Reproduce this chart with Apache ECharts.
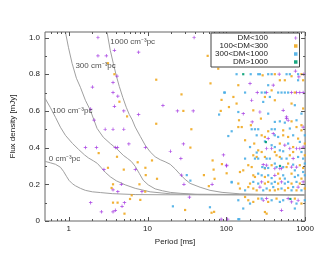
<!DOCTYPE html>
<html><head><meta charset="utf-8">
<script src="https://cdn.jsdelivr.net/npm/echarts@6/dist/echarts.min.js"></script>
<style>html,body{margin:0;padding:0;background:#fff}#c{width:317px;height:260px}</style>
</head><body><div id="c"></div>
<script>
const FONT = 'Liberation Sans';
const seriesNames = ['DM<100', '100<DM<300', '300<DM<1000', 'DM>1000'];
const seriesColors = ['#A030E0', '#F0A820', '#4AAEE6', '#009E73'];

// [period ms, flux density mJy]
const dmLt100 = [
  [2.35,1.0],[2.35,0.90],[3.0,0.90],[3.8,0.93],[7.7,0.92],[2.0,0.73],[3.65,0.755],[3.65,0.70],[4.2,0.68],[5.0,0.60],
  [3.8,0.625],[1.9,0.61],[2.1,0.55],[7.7,0.58],[4.1,0.79],[2.9,0.50],[3.65,0.50],[5.0,0.50],[1.63,0.40],[2.25,0.40],
  [3.9,0.40],[4.15,0.40],[9.4,0.40],[5.8,0.42],[2.8,0.28],[7.0,0.28],[4.65,0.20],[4.2,0.16],[3.65,0.17],[8.5,0.16],
  [1.9,0.10],[2.6,0.05],[3.65,0.05],[3.9,0.058],[4.75,0.08],[5.1,0.10],
  [39,1.0],[15.7,0.63],[24,0.60],[38,0.60],[19.5,0.38],[28.5,0.42],[26.5,0.34],[27,0.25],[29,0.20],[66,0.20],
  [34,0.13],[86,0.01],[92,0.36],[104,0.01],[101,0.30],
  [469,0.80],[755,0.817],[963,0.80],[200,0.749],[394,0.74],[833,0.785],[247,0.70],[325,0.70],[673,0.70],[778,0.70],
  [857,0.70],[944,0.70],[164,0.585],[267,0.594],[527,0.603],[582,0.567],[210,0.658],[213,0.54],[582,0.558],[609,0.549],
  [944,0.512],[340,0.449],[394,0.476],[325,0.395],[553,0.413],[944,0.403],[376,0.395],[640,0.395],[778,0.395],[857,0.395],
  [705,0.34],[101,0.304],[294,0.307],[325,0.304],[478,0.286],[502,0.286],[778,0.294],[413,0.286],[673,0.294],[413,0.249],
  [281,0.213],[502,0.213],[944,0.213],[267,0.185],[815,0.185],[294,0.113],[325,0.122],[609,0.122],[673,0.104],[815,0.113],
  [502,0.058]
];
const dm100to300 = [
  [3.15,0.86],[3.8,0.80],[4.4,0.65],[5.5,0.57],[12.9,0.77],[12.9,0.53],[2.4,0.37],[4.1,0.35],[3.15,0.29],[5.0,0.28],
  [7.5,0.32],[11.4,0.33],[9.4,0.29],[9.5,0.25],[13.2,0.23],[3.65,0.20],[3.5,0.18],[7.9,0.20],[6.3,0.14],[8.1,0.115],
  [6.0,0.12],[3.65,0.10],[4.17,0.10],[5.1,0.04],[9.35,0.16],
  [58,0.90],[27,0.69],[28.5,0.60],[63,0.75],[79,0.83],[87,0.66],[85,0.60],[36,0.50],[35,0.40],[67,0.33],
  [88,0.31],[69,0.28],[52,0.25],[71,0.23],[60,0.19],[30,0.06],[65,0.045],[101,0.26],[70,0.05],
  [289,0.794],[413,0.80],[673,0.789],[899,0.80],[142,0.74],[478,0.767],[553,0.767],[944,0.767],[376,0.712],[741,0.70],
  [108,0.621],[135,0.64],[220,0.603],[673,0.64],[413,0.658],[944,0.613],[309,0.676],[123,0.676],
  [145,0.549],[275,0.558],[673,0.543],[899,0.522],[142,0.512],[157,0.512],[205,0.522],[340,0.489],[527,0.494],[778,0.512],
  [899,0.494],[173,0.44],[281,0.467],[309,0.458],[527,0.467],[609,0.458],[815,0.449],[226,0.422],[478,0.422],[705,0.403],
  [991,0.422],[254,0.385],[281,0.376],[413,0.376],[705,0.376],[220,0.358],[243,0.349],[309,0.349],[434,0.358],[478,0.349],
  [640,0.358],[991,0.358],[190,0.304],[210,0.294],[376,0.304],[582,0.294],[609,0.313],[857,0.304],[944,0.289],
  [164,0.276],[149,0.267],[309,0.286],[220,0.249],[231,0.24],[309,0.24],[455,0.258],[478,0.231],[673,0.258],[899,0.231],
  [142,0.204],[200,0.204],[309,0.204],[340,0.213],[455,0.204],[673,0.204],[857,0.204],[149,0.177],[190,0.185],[220,0.177],
  [243,0.167],[357,0.167],[413,0.167],[455,0.173],[553,0.167],[609,0.18],[778,0.167],[991,0.177],[173,0.131],[190,0.113],
  [220,0.104],[254,0.122],[340,0.104],[434,0.122],[741,0.122],[899,0.095],[309,0.049],[325,0.04]
];
const dm300to1000 = [
  [62,0.075],[117,0.21],[21,0.08],[146,0.01],[81,0.58],[94,0.70],[31.5,0.25],[35,0.22],
  [135,0.80],[204,0.80],[254,0.80],[267,0.80],[340,0.80],[376,0.80],[582,0.80],[640,0.80],[815,0.80],[340,0.74],
  [815,0.767],[96,0.70],[173,0.70],[281,0.70],[309,0.70],[455,0.70],[502,0.70],[553,0.70],[609,0.70],[142,0.594],
  [340,0.585],[294,0.649],[741,0.631],[899,0.585],[357,0.676],
  [413,0.54],[478,0.543],[553,0.536],[778,0.549],[117,0.489],[210,0.50],[231,0.50],[254,0.50],[376,0.50],[413,0.50],
  [640,0.504],[106,0.463],[243,0.467],[413,0.467],[455,0.458],[705,0.467],[991,0.467],[309,0.434],[200,0.403],[376,0.413],
  [413,0.403],[609,0.422],[857,0.431],[243,0.373],[478,0.385],[527,0.38],[899,0.376],[231,0.34],[254,0.34],[325,0.34],
  [357,0.34],[502,0.34],[582,0.34],[815,0.349],[944,0.34],[173,0.34],[309,0.289],[340,0.289],[413,0.313],[434,0.294],
  [705,0.307],[991,0.313],[286,0.294],[527,0.294],[741,0.276],[944,0.267],[254,0.258],[281,0.249],[340,0.249],[376,0.234],
  [527,0.249],[553,0.231],[741,0.24],[815,0.249],[991,0.249],[117,0.213],[220,0.213],[254,0.204],[376,0.204],[413,0.213],
  [553,0.204],[609,0.213],[778,0.213],[173,0.167],[294,0.167],[325,0.177],[394,0.185],[502,0.177],[673,0.167],[705,0.185],
  [899,0.167],[200,0.095],[281,0.122],[376,0.113],[478,0.104],[527,0.113],[778,0.095],[991,0.113],[142,0.113],[164,0.068],
  [741,0.068],[142,0.01]
];
const dmGt1000 = [[164,0.80],[318,0.43],[480,0.30],[650,0.12]];

// sensitivity curves
const curveDM0 = [[0.5,0.325],[0.587,0.317],[0.679,0.309],[0.785,0.293],[0.857,0.271],[0.935,0.244],[1.006,0.222],
  [1.114,0.203],[1.216,0.192],[1.406,0.178],[1.627,0.167],[1.995,0.159],[2.52,0.155],[3.57,0.149],[6.98,0.144],
  [16.7,0.143],[1000,0.142]];
const curveDM100 = [[0.5,0.669],[0.587,0.617],[0.679,0.565],[0.785,0.511],[0.908,0.467],[1.114,0.423],[1.327,0.391],
  [1.58,0.361],[1.776,0.344],[2.055,0.328],[2.308,0.314],[2.594,0.29],[2.915,0.265],[3.37,0.241],[4.02,0.219],
  [5.22,0.197],[6.98,0.178],[10.8,0.159],[19.4,0.148],[46.5,0.144],[1000,0.142]];
const curveDM300 = [[0.908,1.03],[0.991,0.947],[1.104,0.859],[1.252,0.778],[1.406,0.729],[1.627,0.658],[1.883,0.603],
  [2.288,0.505],[2.75,0.456],[3.37,0.422],[4.13,0.391],[4.92,0.358],[5.53,0.342],[6.22,0.325],[6.98,0.298],[7.85,0.26],
  [8.82,0.222],[10.2,0.197],[12.5,0.175],[15.4,0.165],[19.4,0.156],[25.9,0.151],[40.1,0.146],[1000,0.142]];
const curveDM1000 = [[3.06,1.03],[3.37,0.930],[3.68,0.859],[4.02,0.791],[4.38,0.734],[4.85,0.674],[5.37,0.62],
  [5.86,0.581],[6.4,0.551],[6.98,0.512],[8.08,0.462],[9.35,0.413],[10.8,0.377],[12.5,0.35],[14.5,0.334],[16.7,0.323],
  [19.4,0.309],[22.4,0.284],[25.9,0.254],[30,0.227],[34.7,0.205],[46.5,0.184],[62.2,0.167],[88.3,0.156],[149,0.148],
  [357,0.144],[1000,0.142]];
const curves = [curveDM0, curveDM100, curveDM300, curveDM1000];
const curveLabelTexts = ['0 cm\u207B\u00B3pc', '100 cm\u207B\u00B3pc', '300 cm\u207B\u00B3pc', '1000 cm\u207B\u00B3pc'];
const curveLabelAnchors = [[0.558,0.34],[0.616,0.598],[1.216,0.848],[3.37,0.975]];

const xTickLabels = [1, 10, 100, 1000];
const xMinorTicks = [0.6,0.7,0.8,0.9,2,3,4,5,6,7,8,9,20,30,40,50,60,70,80,90,200,300,400,500,600,700,800,900];
const yTickLabels = [0, 0.2, 0.4, 0.6, 0.8, 1.0];
const yMinorTicks = [0.1, 0.3, 0.5, 0.7, 0.9];
const X_MIN = 0.5, X_MAX = 1000, Y_MIN = 0, Y_MAX = 1.03;

const tickData = [].concat(
  xTickLabels.map(v => [v, 0.5, 0]),
  xMinorTicks.map(v => [v, 0.5, 1]),
  yTickLabels.map(v => [1, v, 2]),
  yMinorTicks.map(v => [1, v, 3])
);

function renderTick(params, api) {
  const c = params.coordSys;
  const kind = api.value(2);
  const st = { stroke: '#555', lineWidth: 1 };
  if (kind < 2) {
    const px = Math.round(api.coord([api.value(0), 0.5])[0]) + 0.5;
    const len = kind === 0 ? 4 : 2;
    const b = c.y + c.height, t = c.y;
    return { type: 'group', children: [
      { type: 'line', shape: { x1: px, y1: b, x2: px, y2: b - len }, style: st },
      { type: 'line', shape: { x1: px, y1: t, x2: px, y2: t + len }, style: st }
    ]};
  }
  const py = Math.round(api.coord([1, api.value(1)])[1]) + 0.5;
  const len = kind === 2 ? 4 : 2;
  const l = c.x, r = c.x + c.width;
  return { type: 'group', children: [
    { type: 'line', shape: { x1: l, y1: py, x2: l + len, y2: py }, style: st },
    { type: 'line', shape: { x1: r, y1: py, x2: r - len, y2: py }, style: st }
  ]};
}

const plusPath = 'path://M2,0h1v2h2v1h-2v2h-1v-2h-2v-1h2z';
const pointSets = [dmLt100, dm100to300, dm300to1000, dmGt1000];

const series = [];
curves.forEach((d, i) => series.push({
  type: 'line', name: 'curve' + i, data: d, symbol: 'none', silent: true, z: 2,
  lineStyle: { color: '#a0a0a0', width: 1 }
}));
pointSets.forEach((d, i) => series.push({
  type: 'scatter', name: seriesNames[i], data: d, z: 3, silent: true,
  symbol: i === 0 ? plusPath : 'rect', symbolSize: i === 0 ? 3.5 : 2.2,
  itemStyle: { color: seriesColors[i], opacity: 0.9 }
}));
series.push({
  type: 'scatter', name: 'curveLabels', silent: true, z: 5, symbolSize: 0,
  data: curveLabelAnchors,
  label: { show: true, position: 'right', distance: 0, fontFamily: FONT, fontSize: 8, color: '#222',
    formatter: p => curveLabelTexts[p.dataIndex] }
});
series.push({
  type: 'custom', name: 'ticks', data: tickData, renderItem: renderTick, silent: true, z: 6,
  encode: { x: 0, y: 1 }
});

const chart = echarts.init(document.getElementById('c'), null, { renderer: 'canvas' });
chart.setOption({
  animation: false,
  backgroundColor: '#fff',
  textStyle: { fontFamily: FONT },
  grid: { left: 45, right: 11, top: 32, bottom: 39, show: true, borderColor: '#666', borderWidth: 1, backgroundColor: 'transparent' },
  legend: {
    data: seriesNames, orient: 'vertical', left: 211, top: 33, align: 'right',
    itemWidth: 3.5, itemHeight: 3.5, itemGap: 0, padding: [1, 2, 1, 2],
    backgroundColor: '#fff', borderColor: '#444', borderWidth: 1, selectedMode: false, z: 10,
    formatter: n => '{t|' + n + '}',
    textStyle: { fontFamily: FONT, fontSize: 8, color: '#222',
      rich: { t: { width: 55, align: 'right', padding: [0, 21, 0, 0], fontSize: 8, lineHeight: 8, fontFamily: FONT } } }
  },
  xAxis: {
    type: 'log', logBase: 10, min: X_MIN, max: X_MAX,
    name: 'Period [ms]', nameLocation: 'middle', nameGap: 16,
    nameTextStyle: { fontFamily: FONT, fontSize: 8, color: '#222' },
    axisLine: { show: false }, axisTick: { show: false }, splitLine: { show: false }, minorTick: { show: false },
    axisLabel: { margin: 4, fontFamily: FONT, fontSize: 8, color: '#222',
      formatter: v => { const r = xTickLabels.find(t => Math.abs(t - v) / t < 1e-6); return r ? String(r) : ''; } }
  },
  yAxis: {
    type: 'value', min: Y_MIN, max: Y_MAX, interval: 0.2,
    name: 'Flux density [mJy]', nameLocation: 'middle', nameGap: 28, nameRotate: 90,
    nameTextStyle: { fontFamily: FONT, fontSize: 8, color: '#222' },
    axisLine: { show: false }, axisTick: { show: false }, splitLine: { show: false },
    axisLabel: { margin: 5, fontFamily: FONT, fontSize: 8, color: '#222',
      formatter: v => { const r = yTickLabels.find(t => Math.abs(t - v) < 1e-6); return r === undefined ? '' : (r === 0 ? '0' : r.toFixed(1)); } }
  },
  series: series
});
</script></body></html>
